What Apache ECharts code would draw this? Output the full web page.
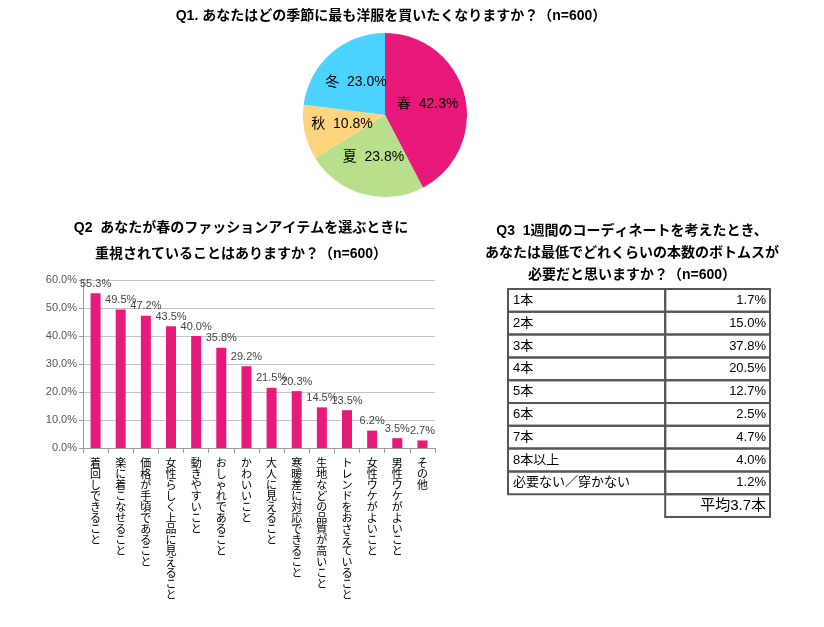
<!DOCTYPE html>
<html>
<head>
<meta charset="utf-8">
<script src="https://cdn.jsdelivr.net/npm/echarts@6/dist/echarts.min.js"></script>
<style>
html,body{margin:0;padding:0;background:#fff;}
#chart{width:824px;height:627px;}
</style>
</head>
<body>
<div id="chart"></div>
<script>
// ---- Q1 pie data ----
const seasonNames = ['春', '夏', '秋', '冬'];
const seasonValues = [42.3, 23.8, 10.8, 23.0];
const seasonColors = ['#E8197A', '#B8E08C', '#FFD47F', '#4DD3FF'];

// ---- Q2 bar data ----
const itemCategories = ['着回しできること', '楽に着こなせること', '価格が手頃であること', '女性らしく上品に見えること',
  '動きやすいこと', 'おしゃれであること', 'かわいいこと', '大人に見えること', '寒暖差に対応できること',
  '生地などの品質が高いこと', 'トレンドをおさえていること', '女性ウケがよいこと', '男性ウケがよいこと', 'その他'];
const itemValues = [55.3, 49.5, 47.2, 43.5, 40.0, 35.8, 29.2, 21.5, 20.3, 14.5, 13.5, 6.2, 3.5, 2.7];
const yTickMax = 60;
const yTickStep = 10;

// ---- Q3 table data ----
const tableRows = ['1本', '2本', '3本', '4本', '5本', '6本', '7本', '8本以上', '必要ない／穿かない'];
const tableValues = [1.7, 15.0, 37.8, 20.5, 12.7, 2.5, 4.7, 4.0, 1.2];
const tableAverage = 3.7;

const FONT = '"Liberation Sans", "Noto Sans CJK JP", sans-serif';
const chart = echarts.init(document.getElementById('chart'));

const tableCats = tableRows.concat(['平均']);
const colSplit = 60;

const option = {
  animation: false,
  backgroundColor: '#fff',
  textStyle: { fontFamily: FONT },
  title: [
    {
      text: 'Q1. あなたはどの季節に最も洋服を買いたくなりますか？（n=600）',
      left: 386, top: 4, textAlign: 'center',
      textStyle: { fontFamily: FONT, fontSize: 14, fontWeight: 'bold', color: '#000' }
    },
    {
      text: 'Q2  あなたが春のファッションアイテムを選ぶときに\n重視されていることはありますか？（n=600）',
      left: 236, top: 210, textAlign: 'center',
      textStyle: { fontFamily: FONT, fontSize: 14, fontWeight: 'bold', color: '#000', lineHeight: 26, align: 'center' }
    },
    {
      text: 'Q3  1週間のコーディネートを考えたとき、\nあなたは最低でどれくらいの本数のボトムスが\n必要だと思いますか？（n=600）',
      left: 627, top: 215, textAlign: 'center',
      textStyle: { fontFamily: FONT, fontSize: 14, fontWeight: 'bold', color: '#000', lineHeight: 22, align: 'center' }
    }
  ],
  grid: [
    { left: 83, top: 280, width: 352, height: 168 },
    { left: 508, top: 289, width: 262, height: 228 }
  ],
  xAxis: [
    {
      gridIndex: 0, type: 'category', data: itemCategories,
      axisLine: { lineStyle: { color: '#999' } },
      axisTick: { show: true, length: 5, lineStyle: { color: '#999' } },
      axisLabel: {
        interval: 0, margin: 9, fontSize: 11, lineHeight: 11, color: '#000',
        fontFamily: '"Noto Sans CJK JP", sans-serif',
        formatter: v => v.split('').join('\n')
      }
    },
    { gridIndex: 1, type: 'value', min: 0, max: 100, show: false }
  ],
  yAxis: [
    {
      gridIndex: 0, type: 'value', min: 0, max: yTickMax, interval: yTickStep,
      axisLine: { show: true, lineStyle: { color: '#999' } },
      axisTick: { show: true, length: 4, lineStyle: { color: '#999' } },
      splitLine: { lineStyle: { color: '#c4c4c4' } },
      axisLabel: { fontSize: 11, color: '#555', margin: 6, formatter: v => v.toFixed(1) + '%' }
    },
    { gridIndex: 1, type: 'category', data: tableCats, inverse: true, show: false }
  ],
  series: [
    {
      type: 'pie',
      center: [385, 115],
      radius: 82,
      startAngle: 90,
      clockwise: true,
      data: seasonNames.map((n, i) => ({ name: n, value: seasonValues[i], itemStyle: { color: seasonColors[i] } })),
      label: {
        position: 'inside', color: '#000', fontSize: 14, fontFamily: FONT,
        formatter: p => p.name + '  ' + p.value.toFixed(1) + '%'
      },
      labelLine: { show: false },
      itemStyle: { borderWidth: 0 }
    },
    {
      type: 'bar', xAxisIndex: 0, yAxisIndex: 0,
      data: itemValues,
      barWidth: 10,
      itemStyle: { color: '#E8197A' },
      label: {
        show: true, position: 'top', distance: 4, fontSize: 11, color: '#444',
        formatter: p => p.value.toFixed(1) + '%'
      }
    },
    {
      type: 'custom', xAxisIndex: 1, yAxisIndex: 1,
      coordinateSystem: 'cartesian2d',
      data: tableCats.map((c, i) => [0, i]),
      renderItem: function (params, api) {
        const i = params.dataIndex;
        const c = api.coord([0, i]);
        const bandH = api.size([0, 1])[1];
        const x0 = api.coord([0, i])[0];
        const x1 = api.coord([colSplit, i])[0];
        const x2 = api.coord([100, i])[0];
        const top = c[1] - bandH / 2;
        const border = { fill: 'none', stroke: '#555', lineWidth: 2 };
        const children = [];
        if (i < tableRows.length) {
          children.push({ type: 'rect', shape: { x: x0, y: top, width: x1 - x0, height: bandH }, style: border });
          children.push({ type: 'rect', shape: { x: x1, y: top, width: x2 - x1, height: bandH }, style: border });
          children.push({ type: 'text', style: { text: tableRows[i], x: x0 + 5, y: c[1], verticalAlign: 'middle', align: 'left', fontSize: 13, fill: '#000', fontFamily: FONT } });
          children.push({ type: 'text', style: { text: tableValues[i].toFixed(1) + '%', x: x2 - 4, y: c[1], verticalAlign: 'middle', align: 'right', fontSize: 13, fill: '#000', fontFamily: FONT } });
        } else {
          children.push({ type: 'rect', shape: { x: x1, y: top, width: x2 - x1, height: bandH }, style: border });
          children.push({ type: 'text', style: { text: '平均' + tableAverage.toFixed(1) + '本', x: x2 - 4, y: c[1], verticalAlign: 'middle', align: 'right', fontSize: 15, fill: '#000', fontFamily: FONT } });
        }
        return { type: 'group', children: children };
      }
    }
  ]
};
chart.setOption(option);
</script>
</body>
</html>
